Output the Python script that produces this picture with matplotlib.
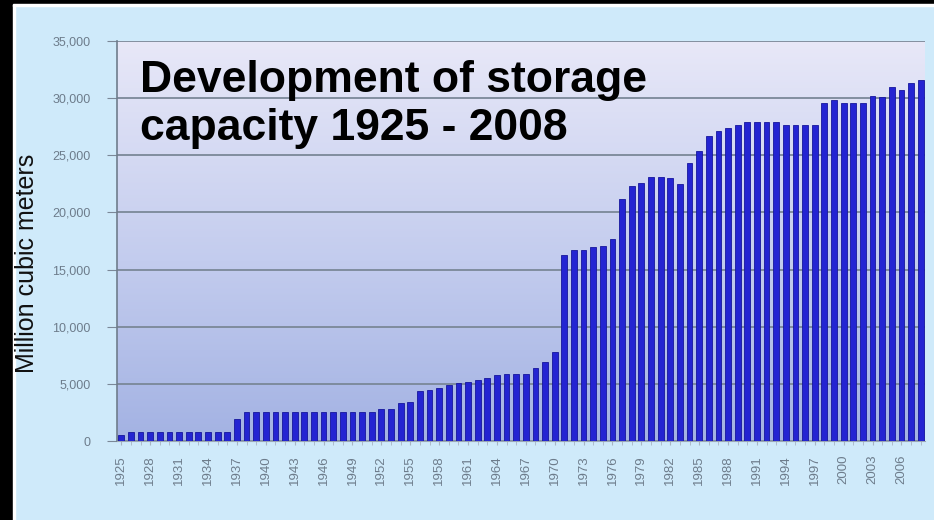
import matplotlib
matplotlib.use('Agg')
import matplotlib.pyplot as plt
from matplotlib.patches import Rectangle
from matplotlib.colors import LinearSegmentedColormap
import numpy as np

plt.rcParams['font.family'] = ['Liberation Sans', 'DejaVu Sans']

# storage capacity per year, million cubic meters
years = list(range(1925, 2009))
capacity = [
    550,                                                                  # 1925
    800, 800, 800, 800, 800, 800, 800, 800, 800, 800, 800,                # 1926-1936
    1950,                                                                 # 1937
    2550, 2550, 2550, 2550, 2550, 2550, 2550, 2550, 2550, 2550, 2550,     # 1938-1948
    2550, 2550, 2550,                                                     # 1949-1951
    2800, 2800, 3300, 3450, 4350, 4450, 4600, 4900, 5100, 5200,           # 1952-1961
    5350, 5550, 5800, 5850, 5850, 5900, 6350, 6900, 7750,                 # 1962-1970
    16250, 16700, 16700, 17000, 17050, 17700, 21150, 22350, 22550, 23100, # 1971-1980
    23100, 23000, 22500, 24350, 25350, 26700, 27150, 27400, 27650, 27950, # 1981-1990
    27950, 27950, 27950, 27650, 27650, 27650, 27650, 29550, 29800, 29550, # 1991-2000
    29550, 29550, 30150, 30100, 30950, 30750, 31300, 31550,               # 2001-2008
]
tick_years = years[::3]
y_ticks = [0, 5000, 10000, 15000, 20000, 25000, 30000, 35000]
title_lines = ["Development of storage", "capacity 1925 - 2008"]
y_label = "Million cubic meters"

W, H = 934, 520
fig = plt.figure(figsize=(W / 100, H / 100), dpi=100, facecolor='#cfeafa')

# black frame of the screenshot (left and top), kept under the texts
for (x0, y0, w, h, c) in [(0, 0, 13, H, 'black'), (13, 0, 2, H, 'white'),
                          (0, 0, W, 4, 'black'), (13, 4, W, 2, 'white')]:
    fig.patches.append(Rectangle((x0 / W, 1 - (y0 + h) / H), w / W, h / H,
                                 transform=fig.transFigure, color=c, zorder=0))

ax = fig.add_axes([117 / W, 1 - 441 / H, (925 - 117) / W, (441 - 41) / H])

# gradient plot background
cmap = LinearSegmentedColormap.from_list(
    'bg', [(0.0, '#a3b2e3'), (0.45, '#c3ccee'), (1.0, '#e8e8f8')])
grad = np.linspace(0, 1, 256).reshape(-1, 1)
ax.imshow(grad, cmap=cmap, origin='lower', extent=[0, 1, 0, 1],
          transform=ax.transAxes, aspect='auto', zorder=0)

ax.bar(years, capacity, width=0.6, color='#2424d2', edgecolor='#16169c',
       linewidth=0.6, zorder=3)

ax.set_xlim(1924.55, 2008.45)
ax.set_ylim(0, 35000)
ax.set_axisbelow(True)
ax.set_yticks(y_ticks)
ax.set_yticklabels([f"{v:,}" for v in y_ticks])
ax.yaxis.grid(True, color='#7b8898', linewidth=1.3)

ax.set_xticks(tick_years)
ax.set_xticklabels([str(y) for y in tick_years], rotation=90)
ax.set_xticks(years, minor=True)

for s in ['top', 'right']:
    ax.spines[s].set_visible(False)
ax.spines['left'].set_color('#6f7d8c')
ax.spines['left'].set_linewidth(1.2)
ax.spines['bottom'].set_color('#9aa6b5')

ax.tick_params(axis='y', length=7, pad=12, color='#7b8898',
               labelcolor='#6d7c8b', labelsize=9)
ax.tick_params(axis='x', which='both', length=3, pad=7, color='#a9b4c2',
               labelcolor='#6d7c8b', labelsize=9.5)

# title inside the plot area
fig.text(140 / W, 1 - 92 / H, title_lines[0], fontsize=32, fontweight='bold',
         color='black', va='baseline', ha='left', zorder=5)
fig.text(140 / W, 1 - 140 / H, title_lines[1], fontsize=32, fontweight='bold',
         color='black', va='baseline', ha='left', zorder=5)

fig.text(27 / W, 1 - 263 / H, y_label, rotation=90, fontsize=18,
         color='#111111', ha='center', va='center', zorder=5)

fig.savefig('out.png', dpi=100, facecolor=fig.get_facecolor())
